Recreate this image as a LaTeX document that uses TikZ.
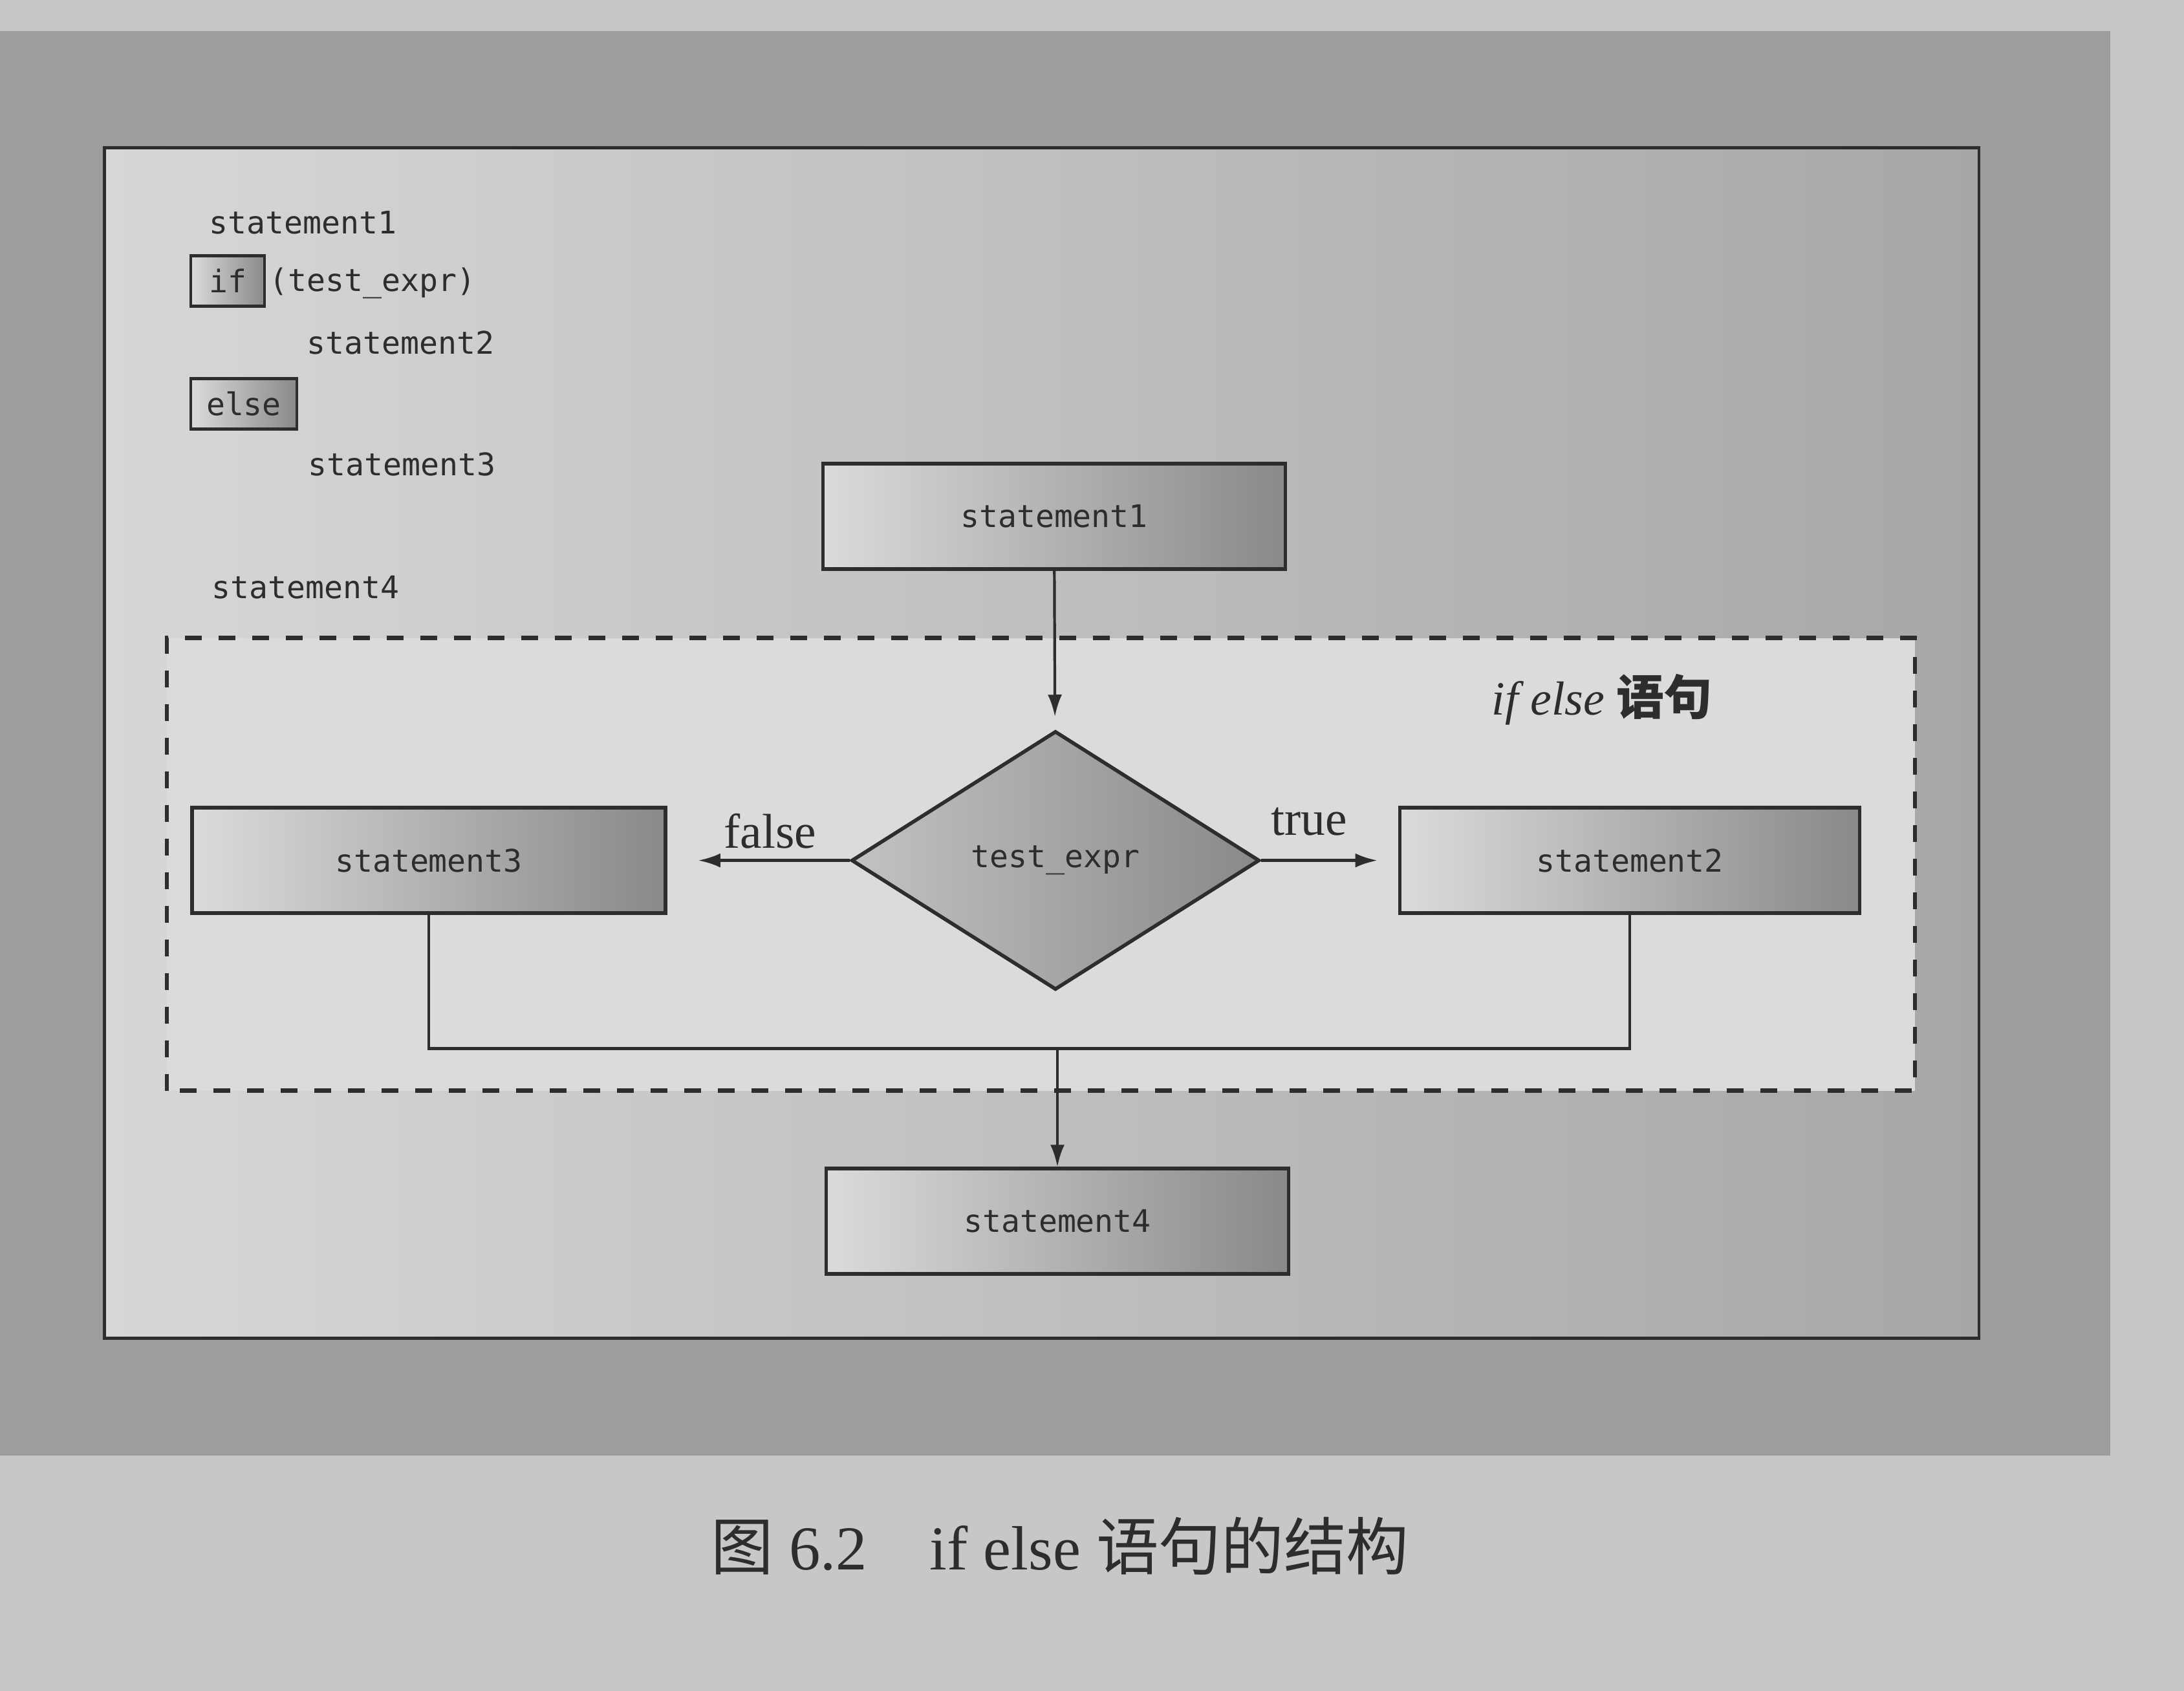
\documentclass[tikz,border=0pt]{standalone}
\usepackage{fontspec}
\setmainfont{Liberation Serif}
\setmonofont{DejaVu Sans Mono}
\newfontfamily\cjk{Noto Sans CJK SC}
\usepackage{xcolor}
\usetikzlibrary{shapes.geometric,arrows.meta,positioning}

\definecolor{paper}{RGB}{198,200,200}
\definecolor{screen}{RGB}{156,158,158}
\definecolor{panelL}{RGB}{214,216,216}
\definecolor{panelR}{RGB}{166,168,168}
\definecolor{region}{RGB}{218,220,220}
\definecolor{boxL}{RGB}{218,219,219}
\definecolor{boxR}{RGB}{136,138,138}
\definecolor{ink}{RGB}{45,45,45}

\begin{document}
\begin{tikzpicture}[
stmtbox/.style={
draw=ink,
line width=1.6pt,
rectangle,
left color=boxL,
right color=boxR,
minimum width=7.15cm,
minimum height=1.63cm,
text=ink,
font=\fontsize{13.7}{16}\selectfont\ttfamily
},
condbox/.style={
draw=ink,
line width=1.6pt,
diamond,
left color=boxL!70!boxR,
right color=boxR,
minimum width=6.31cm,
minimum height=4cm,
inner sep=0pt,
text=ink,
font=\fontsize{13.7}{16}\selectfont\ttfamily
},
kwbox/.style={
draw=ink,
line width=1.4pt,
rectangle,
left color=boxL,
right color=boxR,
minimum height=0.78cm,
inner sep=0pt,
text=ink,
font=\fontsize{13.7}{16}\selectfont\ttfamily
},
codeline/.style={anchor=west, inner sep=0pt, text=ink, font=\fontsize{13.7}{16}\selectfont\ttfamily},
branchlabel/.style={inner sep=0pt, text=ink, font=\fontsize{21.5}{24}\selectfont},
flow/.style={draw=ink, line width=1.2pt, -{Latex[length=0.34cm,width=0.22cm]}},
joinline/.style={draw=ink, line width=1.2pt}
]

% page and printed figure area
\fill[paper] (0,0) rectangle (33.77,26.146);
\useasboundingbox (0,0) rectangle (33.77,26.146);
\fill[screen] (0,3.64) rectangle (32.63,25.67);
\draw[ink, line width=1.2pt, left color=panelL, right color=panelR] (1.615,5.45) rectangle (30.60,23.86);

% dashed block of the if else statement
\draw[ink, line width=1.8pt, dash pattern=on 0.26cm off 0.26cm, fill=region] (2.58,9.28) rectangle (29.61,16.28);

% source code
\node[codeline] (c1) at (3.23,22.70) {statement1};
\node[kwbox, minimum width=1.14cm] (kwif) at (3.52,21.80) {if};
\node[codeline] (c2) at (4.16,21.77) {(test\_expr)};
\node[codeline] (c3) at (4.74,20.85) {statement2};
\node[kwbox, minimum width=1.64cm] (kwelse) at (3.77,19.90) {else};
\node[codeline] (c4) at (4.76,18.97) {statement3};
\node[codeline] (c5) at (3.27,17.06) {statement4};

% flow chart
\node[stmtbox] (s1) at (16.30,18.16) {statement1};
\node[condbox] (test) at (16.32,12.84) {test\_expr};
\node[stmtbox, minimum width=7.32cm] (s3) at (6.63,12.84) {statement3};
\node[stmtbox, minimum width=7.11cm] (s2) at (25.20,12.84) {statement2};
\node[stmtbox] (s4) at (16.35,7.26) {statement4};
\coordinate (join) at (16.35,9.93);

\node[branchlabel] (lfalse) at (11.91,13.29) {false};
\node[branchlabel] (ltrue) at (20.24,13.44) {true};
\node[inner sep=0pt, text=ink, font=\fontsize{21}{24}\selectfont] (title) at (24.77,15.33) {\textit{if else} {\cjk\bfseries 语句}};

\draw[flow, shorten >=0.2cm] (s1) -- (test);
\draw[flow, shorten >=0.48cm] (test) -- (s3);
\draw[flow, shorten >=0.32cm] (test) -- (s2);
\draw[joinline] (s3.south) |- (join);
\draw[joinline] (s2.south) |- (join);
\draw[flow] (join) -- (s4);

% caption
\node[inner sep=0pt, text=ink, font=\fontsize{27.5}{30}\selectfont] (caption) at (16.39,2.24) {{\cjk 图} 6.2\quad if else {\cjk 语句的结构}};

\end{tikzpicture}
\end{document}
